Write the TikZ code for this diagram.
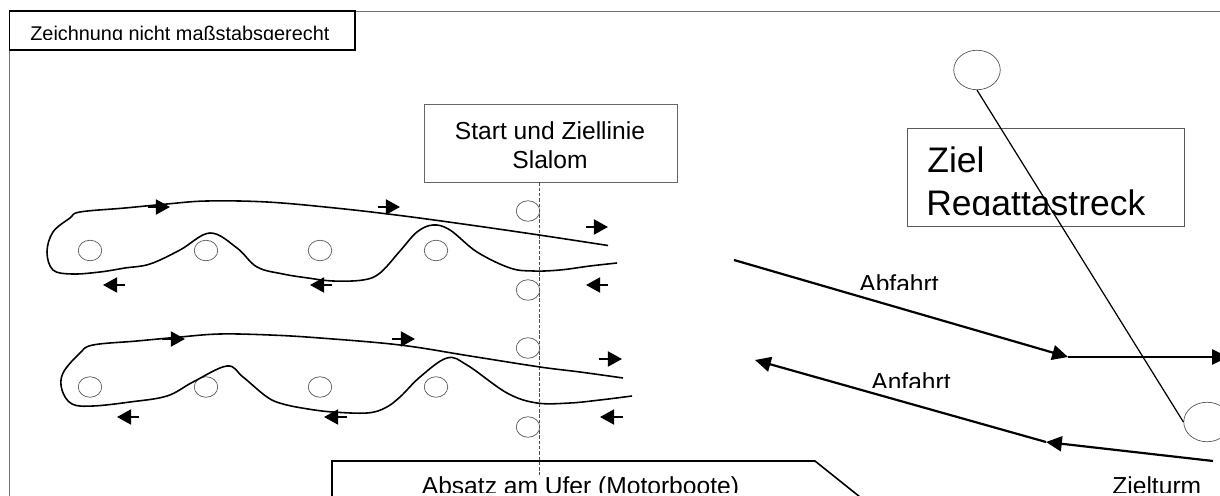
\documentclass[tikz,border=0pt]{standalone}
\usepackage{fontspec}
\setmainfont{Liberation Sans}
\usetikzlibrary{arrows.meta,shapes.geometric}
\tikzset{
  boje/.style={ellipse,draw=black!65,line width=0.4pt,minimum width=23.5*0.02cm,minimum height=20.5*0.02cm,inner sep=0pt},
  grossboje/.style={boje,minimum width=46.5*0.02cm,minimum height=39.5*0.02cm},
  kurs/.style={line width=0.9pt,black},
  pfeil/.style={line width=1.2pt,-{Triangle[length=8pt,width=8.5pt]}},
  fahrt/.style={line width=1.25pt,-{Triangle[length=9pt,width=8.5pt]}},
  schild/.style={font=\fontsize{14}{17}\selectfont,anchor=base}
}
\begin{document}
\begin{tikzpicture}[x=0.02cm,y=-0.02cm]
\useasboundingbox (0,0) rectangle (1220,496);
% rahmen
\draw[black!55,line width=0.5pt] (9.5,496) -- (9.5,11) -- (1220,11);
\draw[black,line width=0.9pt,fill=white] (9.5,11) rectangle (355,50);
\begin{scope}
\clip (0,0) rectangle (1220,39.5);
\node (hinweis) [anchor=base west,inner sep=0pt,font=\fontsize{11.3}{13}\selectfont] at (30,40.3) {Zeichnung nicht maßstabsgerecht};
\end{scope}
% start und ziel slalom
\node (startbox) [draw=black!60,line width=0.5pt,minimum width=253*0.02cm,minimum height=78*0.02cm,inner sep=0pt] at (550.5,143) {};
\node (start1) [schild] at (550,139.3) {Start und Ziellinie};
\node (start2) [schild] at (550,168.7) {Slalom};
\coordinate (linieunten) at (539.5,475);
\draw[black!70,line width=0.4pt,dash pattern=on 2pt off 1pt] (startbox.south -| linieunten) -- (linieunten);
% bojen
\foreach \name/\x in {a/90,b/206,c/320,d/436} {
  \node (\name1) [boje] at (\x,250.5) {};
  \node (\name2) [boje] at (\x,387) {};
}
\node (e1) [boje] at (528,211) {};
\node (f1) [boje] at (528,290) {};
\node (e2) [boje] at (528,348) {};
\node (f2) [boje] at (528,427) {};
% kurs oben
\draw[kurs] plot[smooth,tension=0.6] coordinates {(608,245.5) (539,235) (470,225) (400,215.5) (335,208) (267,202) (207,201) (167,204) (125,208) (80,212) (70,218) (53,232) (47,252) (53,270) (72,274) (100,272) (125,268) (150,264) (180,250) (210,233) (237,248) (257,267) (283,274) (308,278) (333,281) (363,280) (380,273) (400,251) (417,232) (433,225) (450,230) (477,252) (510,268) (533,271) (560,270) (590,266) (617,263)};
% kurs unten
\draw[kurs] plot[smooth,tension=0.6] coordinates {(623,378) (580,372) (540,367) (470,356) (400,345) (320,338) (270,335) (220,334) (180,337) (137,341) (93,345) (80,353) (63,373) (62,390) (72,404) (93,406) (130,402) (167,396) (193,382) (227,366) (243,377) (267,397) (283,404) (308,409) (333,412) (367,413) (385,408) (400,397) (420,377) (447,358) (467,365) (507,393) (537,403) (570,403) (600,400) (632,396)};
% pfeile
\foreach \xa/\xb/\y in {148/170/207,378/400/207,586/608/227,125/103/285,332/310/285,608/586/285,162/185/339,392/415/339,599/622/359,139/117/417,347/324/417,623/600/417} {
  \draw[pfeil] (\xa,\y) -- (\xb,\y);
}
% regattastrecke
\node (zielboje) [grossboje] at (977,70) {};
\node (turmboje) [grossboje] at (1207,422) {};
\node (zielbox) [draw=black!65,line width=0.5pt,minimum width=277*0.02cm,minimum height=98*0.02cm,inner sep=0pt] at (1045.5,177) {};
\begin{scope}
\clip (900,120) rectangle (1190,216);
\node (ziel1) [anchor=base west,inner sep=0pt,font=\fontsize{20.2}{24}\selectfont] at (927,172.2) {Ziel};
\node (ziel2) [anchor=base west,inner sep=0pt,font=\fontsize{20.2}{24}\selectfont] at (926,215.5) {Regattastreck};
\end{scope}
\draw[black,line width=0.7pt] (zielboje.south) -- (turmboje.west);
\coordinate (ab1) at (734,260);
\coordinate (ab2) at (1068,357);
\coordinate (ab3) at (1228,357);
\coordinate (an1) at (1213,461);
\coordinate (an2) at (1046,442);
\coordinate (an3) at (755,360);
\draw[fahrt] (ab1) -- (ab2);
\draw[fahrt] (ab2) -- (ab3);
\draw[fahrt] (an1) -- (an2);
\draw[fahrt] (an2) -- (an3);
\begin{scope}
\clip (840,270) rectangle (960,289.5);
\node (abfahrt) [schild,anchor=base west,inner sep=0pt] at (859,292.7) {Abfahrt};
\end{scope}
\begin{scope}
\clip (850,365) rectangle (970,387.5);
\node (anfahrt) [schild,anchor=base west,inner sep=0pt] at (871,390) {Anfahrt};
\end{scope}
\begin{scope}
\clip (1100,470) rectangle (1215,492);
\node (zielturm) [schild,anchor=base west,inner sep=0pt] at (1112,494.5) {Zielturm};
\end{scope}
% absatz
\coordinate (ufer1) at (332,497);
\coordinate (ufer2) at (332,461);
\coordinate (ufer3) at (815,461);
\coordinate (ufer4) at (860,497);
\draw[black,line width=0.9pt] (ufer1) -- (ufer2) -- (ufer3) -- (ufer4);
\begin{scope}
\clip (340,470) rectangle (800,492);
\node (absatz) [schild,anchor=base west,inner sep=0pt] at (421.5,494.5) {Absatz am Ufer (Motorboote)};
\end{scope}
\end{tikzpicture}
\end{document}
